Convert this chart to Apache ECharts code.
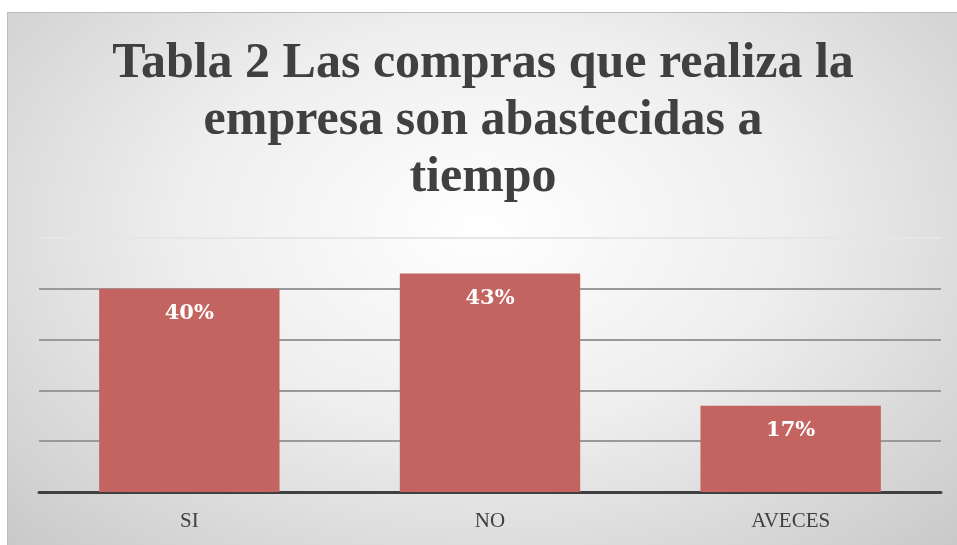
<!DOCTYPE html>
<html>
<head>
<meta charset="utf-8">
<script src="https://cdn.jsdelivr.net/npm/echarts@6/dist/echarts.min.js"></script>
<style>
  html, body { margin: 0; padding: 0; background: #fff; }
  #chart {
    position: absolute; left: 7px; top: 12px; width: 950px; height: 533px;
    border-top: 1px solid #bbb; border-left: 1px solid #bbb;
    background: radial-gradient(ellipse at 50% 40%, #ffffff 0%, #eeeeee 45%, #c9c9c9 100%);
  }
</style>
</head>
<body>
<div id="chart"></div>
<script>
var titleText = 'Tabla 2 Las compras que realiza la\nempresa son abastecidas a\ntiempo'
var categories = ['SI', 'NO', 'AVECES']
var percents = [40, 43, 17]

var chart = echarts.init(document.getElementById('chart'))
chart.setOption({
  backgroundColor: 'transparent',
  title: {
    text: titleText,
    left: 'center',
    top: 18,
    textStyle: {
      fontFamily: 'Liberation Serif',
      fontWeight: 'bold',
      fontSize: 50,
      lineHeight: 57,
      color: '#404040'
    }
  },
  grid: { left: 31, right: 17, top: 225, bottom: 54 },
  xAxis: {
    type: 'category',
    data: categories,
    axisTick: { show: false },
    axisLine: { lineStyle: { color: '#404040', width: 3 } },
    axisLabel: {
      margin: 19,
      fontFamily: 'Liberation Serif',
      fontSize: 21,
      color: '#404040'
    }
  },
  yAxis: {
    type: 'value',
    min: 0,
    max: 50,
    interval: 10,
    axisLabel: { show: false },
    axisLine: { show: false },
    axisTick: { show: false },
    splitLine: {
      lineStyle: {
        color: ['#999', '#999', '#999', '#999', '#999', '#e6e6e6'],
        width: 2
      }
    }
  },
  series: [{
    type: 'bar',
    data: percents,
    barCategoryGap: '40%',
    itemStyle: { color: '#c46461' },
    label: {
      show: true,
      position: 'insideTop',
      distance: 14,
      formatter: '{c}%',
      fontFamily: 'DejaVu Serif',
      fontWeight: 'bold',
      fontSize: 21,
      color: '#ffffff'
    }
  }]
})
</script>
</body>
</html>
